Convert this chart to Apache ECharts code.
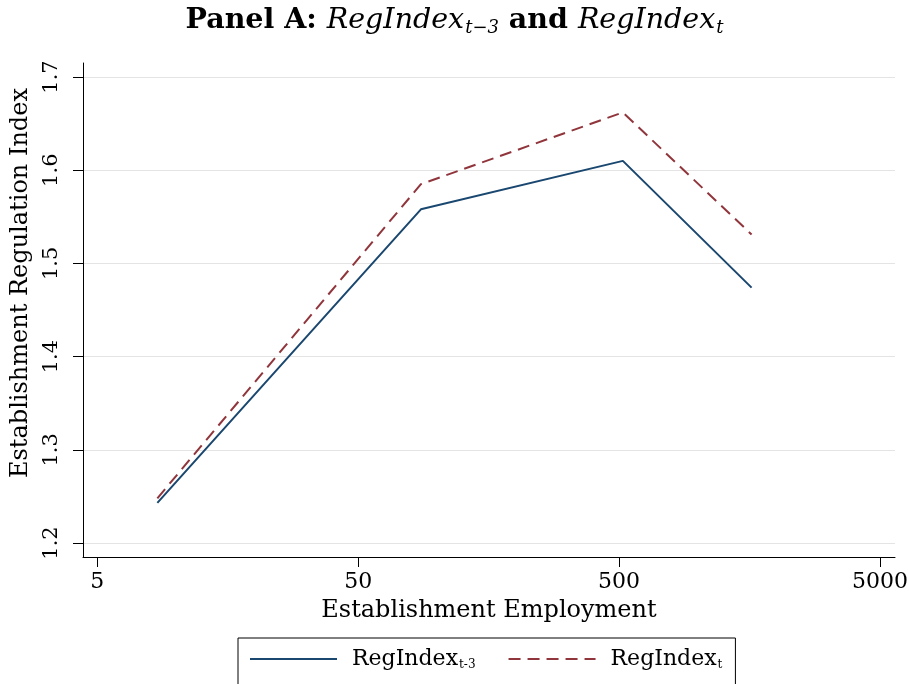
<!DOCTYPE html>
<html>
<head>
<meta charset="utf-8">
<script src="https://cdn.jsdelivr.net/npm/echarts@6/dist/echarts.min.js"></script>
<style>
  html, body { margin: 0; padding: 0; background: #fff; }
  #chart { width: 909px; height: 684px; }
</style>
</head>
<body>
<div id="chart"></div>
<script>
// Establishment size (employment) and the average regulation index
const employment = [8.5, 87, 517, 1610];
const regIndexLag3 = [1.243, 1.558, 1.610, 1.474];
const regIndexCurrent = [1.248, 1.585, 1.662, 1.531];
const xTicks = [5, 50, 500, 5000];
const yTicks = [1.2, 1.3, 1.4, 1.5, 1.6, 1.7];

const FONT = 'DejaVu Serif';
const NAVY = '#1a476f';
const MAROON = '#90353b';

const pairs = (xs, ys) => xs.map((x, i) => [x, ys[i]]);

const chart = echarts.init(document.getElementById('chart'), null, { renderer: 'canvas' });

chart.setOption({
  animation: false,
  backgroundColor: '#fff',
  title: {
    text: '{b|Panel A: }{i|RegIndex}{s|t−3}{b| and }{i|RegIndex}{s|t}',
    left: 'center',
    top: 0,
    textStyle: {
      rich: {
        b: { fontFamily: FONT, fontWeight: 'bold', fontSize: 28.5, color: '#000' },
        i: { fontFamily: FONT, fontStyle: 'italic', fontWeight: 'normal', fontSize: 28.5, color: '#000' },
        s: { fontFamily: FONT, fontStyle: 'italic', fontWeight: 'normal', fontSize: 18, color: '#000', padding: [14, 0, 0, 1] }
      }
    }
  },
  grid: { left: 83, right: 14, top: 63, bottom: 127, outerBoundsMode: 'none' },
  xAxis: {
    type: 'log',
    logBase: 10,
    min: 4.41,
    max: 5708,
    name: 'Establishment Employment',
    nameLocation: 'middle',
    nameGap: 42,
    nameTextStyle: { fontFamily: FONT, fontSize: 24, color: '#000' },
    axisLine: { show: true, lineStyle: { color: '#000', width: 1 } },
    axisTick: { show: true, customValues: xTicks, length: 10, lineStyle: { color: '#000' } },
    axisLabel: {
      customValues: xTicks,
      fontFamily: FONT, fontSize: 22, color: '#000', margin: 14,
      formatter: v => String(Math.round(v))
    },
    splitLine: { show: false },
    minorTick: { show: false }
  },
  yAxis: {
    type: 'value',
    min: 1.185,
    max: 1.715,
    name: 'Establishment Regulation Index',
    nameLocation: 'middle',
    nameRotate: 90,
    nameGap: 47,
    nameTextStyle: { fontFamily: FONT, fontSize: 24, color: '#000', padding: [0, 0, 0, 54] },
    axisLine: { show: true, lineStyle: { color: '#000', width: 1 } },
    axisTick: { show: true, customValues: yTicks, length: 10, lineStyle: { color: '#000' } },
    axisLabel: {
      customValues: yTicks,
      rotate: 90,
      fontFamily: FONT, fontSize: 21, color: '#000', margin: 21,
      formatter: v => v.toFixed(1)
    },
    splitLine: { show: true, customValues: yTicks, lineStyle: { color: '#e4e4e4', width: 1 } }
  },
  legend: {
    left: 238,
    top: 638,
    itemWidth: 87,
    itemHeight: 14,
    itemGap: 32,
    padding: [10, 13, 16, 11],
    borderColor: '#000',
    borderWidth: 1,
    backgroundColor: '#fff',
    itemStyle: { opacity: 0 },
    textStyle: {
      fontFamily: FONT, fontSize: 22, color: '#000',
      rich: {
        m: { fontFamily: FONT, fontSize: 22, color: '#000', padding: [0, 0, 0, 10] },
        s: { fontFamily: FONT, fontSize: 12, color: '#000', padding: [12, 0, 0, 1] }
      }
    },
    formatter: name => name === 'lag3'
      ? '{m|RegIndex}{s|t-3}'
      : '{m|RegIndex}{s|t}',
    data: ['lag3', 'current']
  },
  series: [
    {
      name: 'lag3',
      type: 'line',
      data: pairs(employment, regIndexLag3),
      symbol: 'none',
      lineStyle: { color: NAVY, width: 2 },
      itemStyle: { color: NAVY }
    },
    {
      name: 'current',
      type: 'line',
      data: pairs(employment, regIndexCurrent),
      symbol: 'none',
      lineStyle: { color: MAROON, width: 2, type: [12, 7] },
      itemStyle: { color: MAROON }
    }
  ]
});
</script>
</body>
</html>
